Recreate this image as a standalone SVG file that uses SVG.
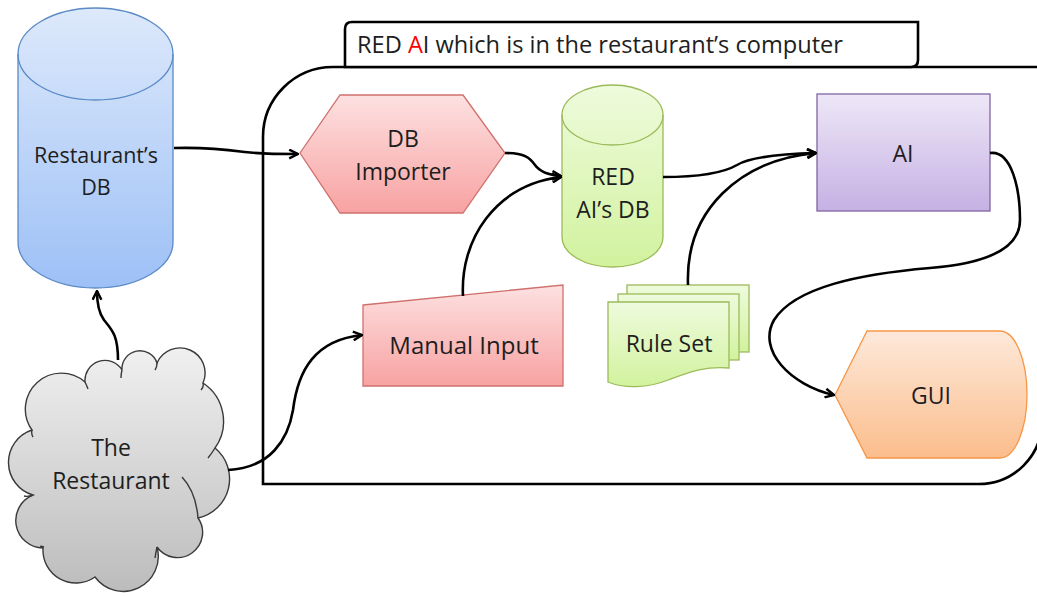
<svg xmlns="http://www.w3.org/2000/svg" width="1037" height="596" viewBox="0 0 1037 596">
<style>
text{font-family:"Open Sans","Liberation Sans",sans-serif;font-size:23px;fill:#1e1e1e;text-anchor:middle}
.conn{fill:none;stroke:#000;stroke-width:2.6;marker-end:url(#arr)}
.frame{fill:#fff;stroke:#000;stroke-width:2.6}
</style>
<defs>
<linearGradient id="gBlue" x1="0" y1="0" x2="0" y2="1"><stop offset="0" stop-color="#dde9fb"/><stop offset="1" stop-color="#9dc0f6"/></linearGradient>
<linearGradient id="gPink" x1="0" y1="0" x2="0" y2="1"><stop offset="0" stop-color="#fde1e1"/><stop offset="1" stop-color="#f8a2a2"/></linearGradient>
<linearGradient id="gGreen" x1="0" y1="0" x2="0" y2="1"><stop offset="0" stop-color="#eefbdd"/><stop offset="1" stop-color="#d2f29e"/></linearGradient>
<linearGradient id="gPurple" x1="0" y1="0" x2="0" y2="1"><stop offset="0" stop-color="#eee7f7"/><stop offset="1" stop-color="#c6b1e4"/></linearGradient>
<linearGradient id="gOrange" x1="0" y1="0" x2="0" y2="1"><stop offset="0" stop-color="#fde9da"/><stop offset="1" stop-color="#fbbd8c"/></linearGradient>
<linearGradient id="gGray" x1="0" y1="0" x2="0" y2="1"><stop offset="0" stop-color="#f0f0f0"/><stop offset="1" stop-color="#bcbcbc"/></linearGradient>
<marker id="arr" viewBox="0 0 10 10" refX="9" refY="5" markerWidth="11" markerHeight="11" markerUnits="userSpaceOnUse" orient="auto"><path d="M1,1 L9,5 L1,9" fill="none" stroke="#000" stroke-width="2.2"/></marker>
</defs>

<g id="container">
<path class="frame" d="M263,484 L263,137 A70,70 0 0 1 333,67 L1042,67 L1042,421 A63,63 0 0 1 979,484 Z"/>
</g>
<g id="title">
<path class="frame" d="M345,67 L345,29 Q345,22 352,22 L918,22 L918,60 Q918,67 911,67 Z"/>
<text x="357" y="53" style="text-anchor:start;font-size:23.6px">RED <tspan style="fill:#ff0000">A</tspan>I which is in the restaurant’s computer</text>
</g>

<g id="restaurants-db">
<path d="M18,54 A77.5,46 0 0 1 173,54 L173,242 A77.5,46 0 0 1 18,242 Z" fill="url(#gBlue)" stroke="#5b8ac6" stroke-width="1.3"/>
<path d="M18,54 A77.5,46 0 0 0 173,54" fill="none" stroke="#5b8ac6" stroke-width="1.3"/>
<text x="96" y="163" style="font-size:21.5px">Restaurant’s</text>
<text x="96" y="195" style="font-size:21.5px">DB</text>
</g>

<g id="the-restaurant">
<path d="M32,430 A36,36 0 0 1 85,382 A20,20 0 0 1 122,370 A18,18 0 0 1 157,363 A25,25 0 0 1 203,383 A46,46 0 0 1 215,448 A40,40 0 0 1 198,518 A25,25 0 0 1 157,547 A35,35 0 0 1 95,577 A33,33 0 0 1 43,548 A27.5,27.5 0 0 1 33,495 A34,34 0 0 1 32,430 Z" fill="url(#gGray)" stroke="#3a3a3a" stroke-width="1.4"/>
<path d="M32,430 Q31,434 33,437 M85,382 Q87,386 88,389 M122,370 Q121,374 121,378 M157,363 Q157,367 155,370 M203,383 Q204,387 201,390 M215,448 Q212,453 208,458 M182,477 Q196,492 198,518 M157,547 Q156,552 155,558 M43,548 Q38,545 44,547 M33,495 Q28,497 24,496" fill="none" stroke="#3a3a3a" stroke-width="1.4"/>
<text x="111" y="456">The</text>
<text x="111" y="489">Restaurant</text>
</g>

<g id="db-importer">
<path d="M300,153 L340,95 L463,95 L505,153 L463,213 L340,213 Z" fill="url(#gPink)" stroke="#d0706d" stroke-width="1.3"/>
<text x="403" y="147">DB</text>
<text x="403" y="180">Importer</text>
</g>

<g id="red-ai-db">
<path d="M562,115 A50.5,30 0 0 1 663,115 L663,237 A50.5,30 0 0 1 562,237 Z" fill="url(#gGreen)" stroke="#9bbb59" stroke-width="1.3"/>
<path d="M562,115 A50.5,30 0 0 0 663,115" fill="none" stroke="#9bbb59" stroke-width="1.3"/>
<text x="613" y="185">RED</text>
<text x="613" y="218">AI’s DB</text>
</g>

<g id="ai">
<rect x="817" y="94" width="173" height="117" fill="url(#gPurple)" stroke="#8064a2" stroke-width="1.3"/>
<text x="903" y="162">AI</text>
</g>

<g id="manual-input">
<path d="M363,305 L563,285 L563,386 L363,386 Z" fill="url(#gPink)" stroke="#d0706d" stroke-width="1.3"/>
<text x="464" y="354" style="font-size:24px">Manual Input</text>
</g>

<g id="rule-set">
<rect x="627" y="285" width="122" height="67" fill="url(#gGreen)" stroke="#9bbb59" stroke-width="1.3"/>
<rect x="618" y="294" width="121" height="66" fill="url(#gGreen)" stroke="#9bbb59" stroke-width="1.3"/>
<path d="M608,302 L729,302 L729,368 C705,366 690,372 668,380 C648,388 625,389 608,382 Z" fill="url(#gGreen)" stroke="#9bbb59" stroke-width="1.3"/>
<text x="669" y="352">Rule Set</text>
</g>

<g id="gui">
<path d="M835,395 L867,331 L1000,331 A27,63.5 0 0 1 1000,458 L867,458 Z" fill="url(#gOrange)" stroke="#f79646" stroke-width="1.3"/>
<text x="931" y="404">GUI</text>
</g>

<g id="connectors">
<path class="conn" d="M174,148 C210,147 230,150 245,152 C262,154 280,154 298,154"/>
<path class="conn" d="M505,153 C525,153 530,158 535,165 C540,172 548,175 561,176"/>
<path class="conn" d="M463,296 C460,240 495,185 561,177"/>
<path class="conn" d="M663,177 C700,177 725,172 737,165 C750,157 780,154 816,153"/>
<path class="conn" d="M688,285 C685,210 740,160 816,153"/>
<path class="conn" d="M990,153 C1012,150 1020,190 1020,220 C1020,252 980,264 930,268 C860,274 795,287 774,320 C757,350 790,385 834,395"/>
<path class="conn" d="M118,360 C118,335 112,330 104,320 C98,312 97,300 97,291"/>
<path class="conn" d="M228,470 C270,468 288,440 293,410 C298,370 315,340 362,335"/>
</g>
</svg>
